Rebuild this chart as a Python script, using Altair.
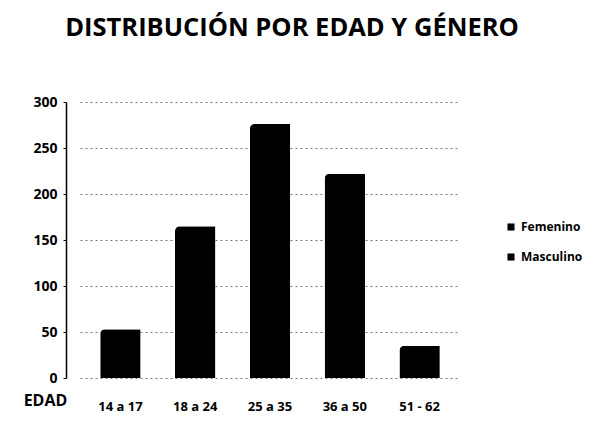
import altair as alt
import pandas as pd

categorias = ["14 a 17", "18 a 24", "25 a 35", "36 a 50", "51 - 62"]
valores = [53, 165, 276, 222, 35]
series = ["Femenino", "Masculino"]

df = pd.DataFrame({"edad": categorias, "valor": valores, "serie": ["Masculino"] * len(categorias)})

font = "Open Sans"

chart = alt.Chart(df).mark_bar(color="black", cornerRadiusTopLeft=5).encode(
    x=alt.X("edad:N", sort=categorias,
            scale=alt.Scale(paddingInner=0.46, paddingOuter=0.27),
            axis=alt.Axis(title="EDAD", labelAngle=0, labelFont=font, labelFontSize=13,
                          labelFontWeight="bold", labelColor="black", domain=False, ticks=False,
                          labelPadding=22, titleFont=font, titleFontSize=16, titleFontWeight="bold",
                          titleColor="black", titleX=-35, titleY=22, titleAlign="center",
                          titleBaseline="middle")),
    y=alt.Y("valor:Q", scale=alt.Scale(domain=[0, 300], nice=False),
            axis=alt.Axis(title=None, values=[0, 50, 100, 150, 200, 250, 300], offset=14,
                          labelFont=font, labelFontSize=14, labelFontWeight="bold",
                          labelColor="black", domainColor="black", domainWidth=1.5,
                          tickColor="black", tickSize=3, labelPadding=6,
                          grid=True, gridColor="#777", gridDash=[2, 3], gridWidth=1)),
    color=alt.Color("serie:N", scale=alt.Scale(domain=series, range=["black", "black"]),
                    legend=alt.Legend(title=None, orient="none", legendX=425, legendY=119,
                                      symbolType="square", symbolSize=50, rowPadding=18,
                                      labelFont=font, labelFontSize=12, labelFontWeight="bold",
                                      labelColor="black", symbolStrokeWidth=0)),
).properties(
    width=380, height=276,
    title=alt.TitleParams("DISTRIBUCIÓN POR EDAD Y GÉNERO", font=font, fontSize=25.5,
                          fontWeight="bold", color="black", offset=54, dx=22),
    padding={"left": 72, "top": 94, "right": 133, "bottom": 37},
    autosize=alt.AutoSizeParams(type="none"),
).configure_view(stroke=None)

chart.save("out.html", embed_options={"renderer": "svg", "actions": False})
